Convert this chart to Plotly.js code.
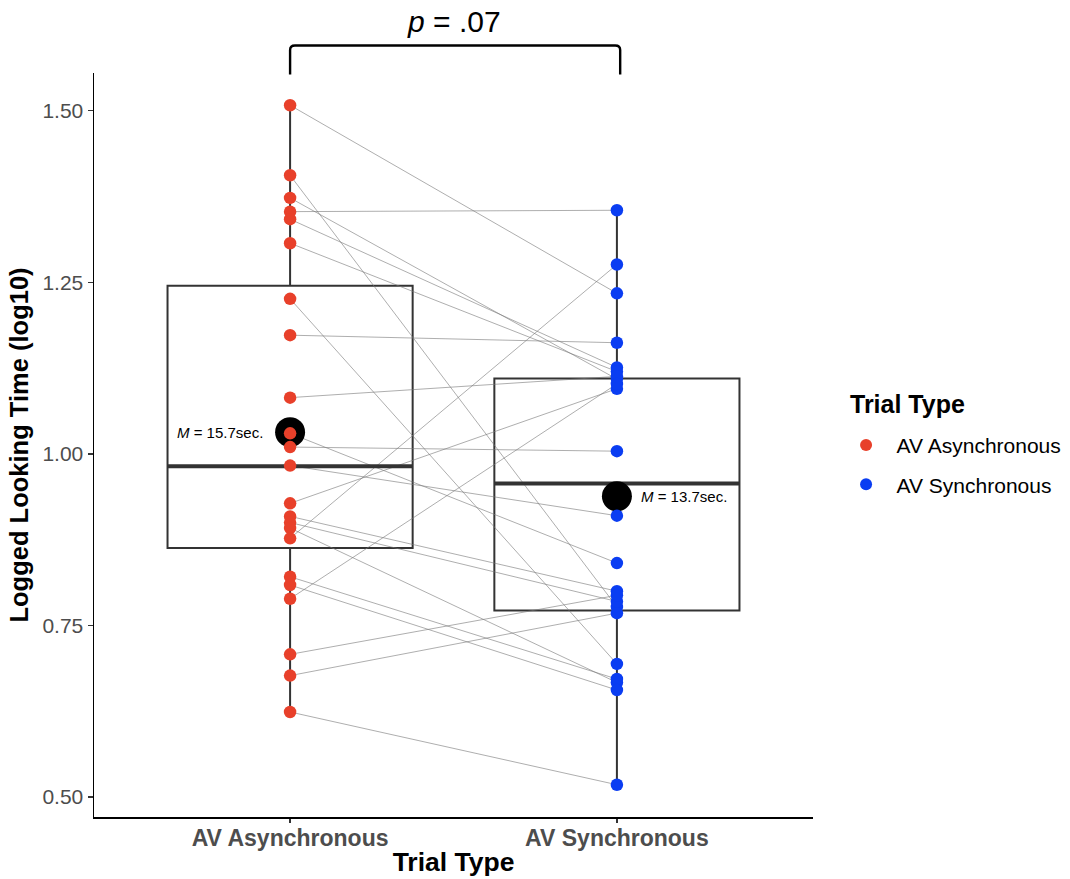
<!DOCTYPE html>
<html>
<head>
<meta charset="utf-8">
<script src="https://cdn.plot.ly/plotly-3.0.1.min.js"></script>
<style>
  html, body { margin: 0; padding: 0; background: #ffffff; }
  #chart { width: 1070px; height: 879px; }
</style>
</head>
<body>
<div id="chart"></div>
<script>
// Trial types (x categories) and their positions on the x axis
const trialTypes = ["AV Asynchronous", "AV Synchronous"];
const trialPos = [1, 2];

// Logged looking time (log10) per infant; index i is the same infant in both conditions
const asyncLog = [1.508, 1.406, 1.373, 1.353, 1.342, 1.307, 1.226, 1.173, 1.082, 1.030, 1.010, 0.983,
                  0.928, 0.909, 0.900, 0.892, 0.877, 0.821, 0.809, 0.789, 0.708, 0.677, 0.624];
const syncLog  = [1.234, 0.777, 1.109, 1.355, 1.126, 1.120, 0.694, 1.162, 1.113, 0.841, 1.004, 0.910,
                  1.095, 0.800, 0.785, 0.667, 1.276, 0.672, 0.656, 1.102, 0.794, 0.768, 0.518];

// Box summaries per trial type
const boxQ1 = [0.863, 0.772];
const boxMedian = [0.982, 0.957];
const boxQ3 = [1.245, 1.110];

// Mean looking time in raw seconds, shown as labels
const meanSeconds = ["15.7", "13.7"];

// Comparison p-value text
const pText = ".07";

const colAsync = "#E8402A";
const colSync = "#0A3DF2";
const fontFam = "Liberation Sans, Arial, Helvetica, sans-serif";

const mean = a => a.reduce((s, v) => s + v, 0) / a.length;
const groups = [asyncLog, syncLog];
const meanLog = groups.map(mean);

// Box traces (whiskers run to the extremes)
const boxTraces = groups.map((g, i) => ({
  type: "box",
  x: [trialPos[i]],
  q1: [boxQ1[i]],
  median: [boxMedian[i]],
  q3: [boxQ3[i]],
  lowerfence: [Math.min(...g)],
  upperfence: [Math.max(...g)],
  width: 0.75,
  whiskerwidth: 0,
  boxpoints: false,
  fillcolor: "rgba(0,0,0,0)",
  line: { color: "#333333", width: 2 },
  showlegend: false,
  hoverinfo: "skip"
}));

// Thick median bars
const medianTraces = boxMedian.map((m, i) => ({
  type: "scatter",
  mode: "lines",
  x: [trialPos[i] - 0.375, trialPos[i] + 0.375],
  y: [m, m],
  line: { color: "#333333", width: 4 },
  showlegend: false,
  hoverinfo: "skip"
}));

// Paired lines joining each infant's two values
const px = [], py = [];
asyncLog.forEach((v, i) => {
  px.push(trialPos[0], trialPos[1], null);
  py.push(v, syncLog[i], null);
});
const pairTrace = {
  type: "scatter",
  mode: "lines",
  x: px,
  y: py,
  line: { color: "rgba(120,120,120,0.6)", width: 1 },
  showlegend: false,
  hoverinfo: "skip"
};

// Group means (log scale)
const meanTrace = {
  type: "scatter",
  mode: "markers",
  x: trialPos,
  y: meanLog,
  marker: { color: "#000000", size: 30 },
  showlegend: false,
  hoverinfo: "skip"
};

// Individual points (legend names get a small lead-in gap after the dot)
const pointTraces = groups.map((g, i) => ({
  type: "scatter",
  mode: "markers",
  name: "\u2002" + trialTypes[i],
  legendgroup: "g" + i,
  x: g.map(() => trialPos[i]),
  y: g,
  marker: { color: i === 0 ? colAsync : colSync, size: 12.5 }
}));

const data = [...boxTraces, pairTrace, ...medianTraces, meanTrace, ...pointTraces];

const layout = {
  width: 1070,
  height: 879,
  paper_bgcolor: "#ffffff",
  plot_bgcolor: "#ffffff",
  margin: { l: 94, r: 257, t: 73, b: 62, autoexpand: false },
  font: { family: fontFam, color: "#000000" },
  xaxis: {
    range: [0.4, 2.6],
    tickvals: trialPos,
    ticktext: trialTypes.map(t => "<b>" + t + "</b>"),
    tickfont: { size: 23, color: "#4D4D4D", family: fontFam },
    showline: true, linecolor: "#000000", linewidth: 1.5,
    ticks: "outside", ticklen: 4, tickcolor: "#333333", tickwidth: 1.2,
    ticklabelstandoff: -4,
    showgrid: false, zeroline: false,
    title: { text: "<b>Trial Type</b>", font: { size: 26.5, color: "#000000", family: fontFam }, standoff: 2 }
  },
  yaxis: {
    range: [0.471, 1.555],
    tickvals: [0.5, 0.75, 1.0, 1.25, 1.5],
    tickformat: ".2f",
    tickfont: { size: 21, color: "#4D4D4D", family: fontFam },
    showline: true, linecolor: "#000000", linewidth: 1.5,
    ticks: "outside", ticklen: 5, tickcolor: "#333333", tickwidth: 1.2,
    showgrid: false, zeroline: false,
    title: { text: "<b>Logged Looking Time (log10)</b>", font: { size: 25.5, color: "#000000", family: fontFam }, standoff: 6 }
  },
  legend: {
    x: 1.046, xanchor: "left",
    y: 0.527, yanchor: "top",
    font: { size: 21, family: fontFam, color: "#000000" },
    itemsizing: "constant",
    tracegroupgap: 9,
    bgcolor: "rgba(0,0,0,0)"
  },
  shapes: [
    // significance bracket
    { type: "path", xref: "x", yref: "paper",
      path: "M 1,0.998 L 1,1.031 Q 1,1.037 1.015,1.037 L 1.995,1.037 Q 2.01,1.037 2.01,1.031 L 2.01,0.998",
      line: { color: "#000000", width: 2.4 } }
  ],
  annotations: [
    // legend heading
    { xref: "paper", yref: "paper", x: 1.0487, y: 0.555, xanchor: "left", yanchor: "middle", showarrow: false,
      text: "<b>Trial Type</b>", font: { size: 25, family: fontFam, color: "#000000" } },
    { xref: "x", yref: "paper", x: 1.5, y: 1.0686, yanchor: "middle", showarrow: false,
      text: "<i>p</i> = " + pText, font: { size: 30, family: fontFam, color: "#000000" } },
    { xref: "x", yref: "y", x: trialPos[0], y: meanLog[0], xanchor: "right", yanchor: "middle", xshift: -25,
      showarrow: false, text: "<i>M</i> = " + meanSeconds[0] + "sec.",
      font: { size: 15, family: fontFam, color: "#000000" } },
    { xref: "x", yref: "y", x: trialPos[1], y: meanLog[1], xanchor: "left", yanchor: "middle", xshift: 22,
      showarrow: false, text: "<i>M</i> = " + meanSeconds[1] + "sec.",
      font: { size: 15, family: fontFam, color: "#000000" } }
  ],
  hovermode: false
};

Plotly.newPlot("chart", data, layout, { displayModeBar: false, staticPlot: true });
</script>
</body>
</html>
